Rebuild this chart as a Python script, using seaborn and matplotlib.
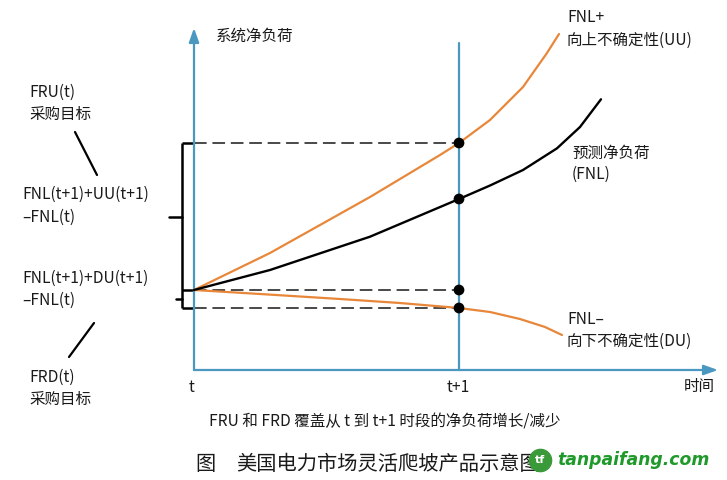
import matplotlib
matplotlib.use("Agg")
import matplotlib.pyplot as plt
import seaborn as sns
import pandas as pd

sns.set_theme(style="white")
plt.rcParams['font.family'] = ['Noto Sans CJK SC', 'DejaVu Sans']

# ---- data (time: t=0, t+1=1 ; load in arbitrary units) ----
uu_time = [0.0, 0.2868, 0.6642, 0.9283, 1.0, 1.117, 1.2415, 1.332, 1.3774]
uu_load = [1.0, 1.4625, 2.1625, 2.6875, 2.8375, 3.125, 3.5375, 3.9625, 4.2]

fnl_time = [0.0, 0.2868, 0.6642, 1.0, 1.117, 1.2415, 1.3698, 1.4566, 1.5358]
fnl_load = [1.0, 1.25, 1.6663, 2.1375, 2.306, 2.5, 2.771, 3.0375, 3.3838]

du_time = [0.0, 0.249, 0.551, 0.777, 1.0, 1.117, 1.230, 1.3245, 1.3887]
du_load = [1.0, 0.95, 0.8875, 0.8375, 0.775, 0.725, 0.6375, 0.5375, 0.4375]

dot_time = [1.0, 1.0, 1.0, 1.0]
dot_load = [2.8375, 2.1375, 1.0, 0.775]

tick_labels = ["t", "t+1", "时间"]

BLUE = "#4a98c0"
ORANGE = "#e8873a"
DASH = "#3a3a3a"

W, H = 727, 480
fig = plt.figure(figsize=(W / 100, H / 100), dpi=100)
ax = fig.add_axes([0, 0, 1, 1])
ax.set_xlim(-194 / 265, (W - 194) / 265)
ax.set_ylim((370 - H) / 80, 370 / 80)
ax.axis("off")


def px(x, y):
    return (x - 194) / 265, (370 - y) / 80


# ---- axes (blue) ----
x0, y0 = px(194, 370)
_, ytop = px(194, 28)
xend, _ = px(718, 370)
ax.annotate("", xy=(x0, ytop), xytext=(x0, y0),
            arrowprops=dict(arrowstyle="-|>,head_length=0.7,head_width=0.25",
                            color=BLUE, lw=1.6, shrinkA=0, shrinkB=0))
ax.annotate("", xy=(xend, y0), xytext=(x0, y0),
            arrowprops=dict(arrowstyle="-|>,head_length=0.7,head_width=0.25",
                            color=BLUE, lw=1.6, shrinkA=0, shrinkB=0))
_, yt1 = px(459, 43)
ax.plot([1.0, 1.0], [y0, yt1], color=BLUE, lw=1.6)

# ---- dashed reference lines ----
xb, _ = px(182, 0)
for v in [dot_load[0], dot_load[2], dot_load[3]]:
    ax.plot([0.0, 1.0], [v, v], color=DASH, lw=1.3, dashes=(7, 3.2), zorder=2)

# ---- bracket ----
ax.plot([xb, xb], [dot_load[0], dot_load[3]], color="black", lw=1.8, solid_capstyle="butt")
for v in [dot_load[0], dot_load[2], dot_load[3]]:
    ax.plot([xb, 0.0], [v, v], color="black", lw=1.8, solid_capstyle="butt")
xt1, _ = px(169, 0)
xt2, _ = px(176, 0)
ax.plot([xt1, xb], [(dot_load[0] + dot_load[2]) / 2] * 2, color="black", lw=1.8)
ax.plot([xt2, xb], [(dot_load[2] + dot_load[3]) / 2] * 2, color="black", lw=1.8)

# ---- curves ----
sns.lineplot(x=uu_time, y=uu_load, ax=ax, color=ORANGE, lw=1.6, sort=False, zorder=3)
sns.lineplot(x=du_time, y=du_load, ax=ax, color=ORANGE, lw=1.6, sort=False, zorder=3)
sns.lineplot(x=fnl_time, y=fnl_load, ax=ax, color="black", lw=1.7, sort=False, zorder=3)
sns.scatterplot(x=dot_time, y=dot_load, ax=ax, color="black", s=60, edgecolor="none", zorder=4)

# ---- texts ----
fs = 11.2


def txt(x, y, s, ha="left", size=fs, **kw):
    xx, yy = px(x, y)
    ax.text(xx, yy, s, ha=ha, va="center", fontsize=size, color="#1a1a1a", **kw)


txt(216, 36, "系统净负荷")
txt(29, 92, "FRU(t)")
txt(29, 114, "采购目标")
txt(22, 194, "FNL(t+1)+UU(t+1)")
txt(22, 217, "–FNL(t)")
txt(22, 278, "FNL(t+1)+DU(t+1)")
txt(22, 300, "–FNL(t)")
txt(29, 377, "FRD(t)")
txt(29, 399, "采购目标")

a1 = px(75, 132); a2 = px(97, 175)
ax.plot([a1[0], a2[0]], [a1[1], a2[1]], color="black", lw=1.6)
b1 = px(94, 323); b2 = px(69, 357)
ax.plot([b1[0], b2[0]], [b1[1], b2[1]], color="black", lw=1.6)

txt(192, 387, tick_labels[0], ha="center")
txt(458, 387, tick_labels[1], ha="center")
txt(699, 387, tick_labels[2], ha="center")

txt(567, 17, "FNL+")
txt(567, 40, "向上不确定性(UU)")
txt(572, 153, "预测净负荷")
txt(572, 174, "(FNL)")
txt(567, 319, "FNL–")
txt(567, 341, "向下不确定性(DU)")

txt(209, 422, "FRU 和 FRD 覆盖从 t 到 t+1 时段的净负荷增长/减少", size=11.2)
txt(195, 465, "图", size=14.6)
txt(236, 465, "美国电力市场灵活爬坡产品示意图", size=14.6)

# watermark
cx, cy = px(540, 460)
ax.plot([cx], [cy], marker="o", markersize=16, color="#3a9a3a", zorder=5)
ax.text(cx, cy, "tf", ha="center", va="center", fontsize=8, color="white",
        fontweight="bold", family="DejaVu Sans", zorder=6)
wx, wy = px(557, 460)
ax.text(wx, wy, "tanpaifang.com", ha="left", va="center", fontsize=12.4,
        color="#1f9a2a", fontweight="bold", fontstyle="italic",
        family="DejaVu Sans", zorder=6)

fig.savefig("out.png", dpi=100, facecolor="white")
